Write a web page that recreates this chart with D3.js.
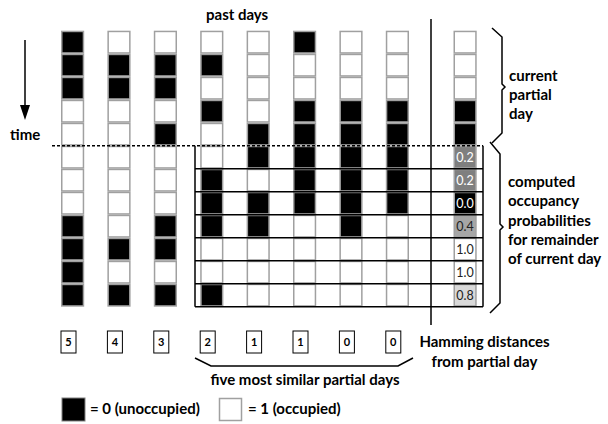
<!DOCTYPE html>
<html><head><meta charset="utf-8">
<script src="https://cdn.jsdelivr.net/npm/d3@7"></script>
<style>
html,body{margin:0;padding:0;background:#fff;}
svg{display:block;font-family:Lato,"Open Sans",sans-serif;}
</style></head>
<body><svg id="c" width="608" height="424"></svg>
<script>
// ---- data (1 = occupied / white, 0 = unoccupied / black) ----
const pastDays = [
  [0,0,0,1,1,1,1,1,0,0,0,0],
  [1,0,0,1,1,1,1,1,1,0,1,0],
  [1,0,0,1,0,1,1,1,0,0,1,0],
  [1,0,1,0,1,1,0,0,0,1,1,0],
  [1,1,1,1,0,0,1,0,0,1,1,1],
  [0,1,1,0,0,0,0,0,1,1,1,1],
  [1,1,1,0,0,0,0,0,0,1,1,1],
  [1,1,1,0,0,0,0,0,1,1,1,1]
];
const currentPartial = [1,1,1,0,0];
const probabilities = [0.2,0.2,0.0,0.4,1.0,1.0,0.8];
const probLabels = ["0.2","0.2","0.0","0.4","1.0","1.0","0.8"];
const hamming = [5,4,3,2,1,1,0,0];
const nSlots = 12, partialLen = 5;

const svg = d3.select("#c");
const x = d3.scaleBand().domain(d3.range(pastDays.length)).range([61,409]).paddingInner(0.5);
const y = d3.scaleBand().domain(d3.range(nSlots)).range([30.7,306.7]);
const bw = x.bandwidth(), bh = y.bandwidth();
const curX = 453.5;
const grayFill = d3.scaleLinear().domain([0,0.2,0.4,0.8,1]).range(["#000","#7f7f7f","#a6a6a6","#d9d9d9","#fff"]);
const cellStroke = "#a0a0a0";

// past day cells
pastDays.forEach((day,i)=>{
  svg.append("g").selectAll("rect").data(day).join("rect")
    .attr("x",x(i)+0.75).attr("y",(d,r)=>y(r)+0.75)
    .attr("width",bw-1.5).attr("height",bh-1.5)
    .attr("fill",d=>d?"#fff":"#000")
    .attr("stroke",cellStroke).attr("stroke-width",1.5);
});
// current column
svg.append("g").selectAll("rect").data(currentPartial).join("rect")
  .attr("x",curX+0.75).attr("y",(d,r)=>y(r)+0.75)
  .attr("width",bw-1.5).attr("height",bh-1.5)
  .attr("fill",d=>d?"#fff":"#000")
  .attr("stroke",cellStroke).attr("stroke-width",1.5);
const pg = svg.append("g").selectAll("g").data(probabilities).join("g");
pg.append("rect")
  .attr("x",curX+0.75).attr("y",(d,i)=>y(i+partialLen)+0.75)
  .attr("width",bw-1.5).attr("height",bh-1.5)
  .attr("fill",d=>grayFill(d))
  .attr("stroke",cellStroke).attr("stroke-width",1.5);
pg.append("text")
  .attr("x",curX+bw/2).attr("y",(d,i)=>y(i+partialLen)+bh/2+4.5)
  .attr("text-anchor","middle").attr("font-size",12.5)
  .attr("fill",d=>d<0.3?"#fff":"#222")
  .text((d,i)=>probLabels[i]);

// remainder grid: black horizontal lines and frame
const gx0 = 195, gx1 = 483;
const yTop = y(partialLen), yBot = y(nSlots-1)+bh;
svg.append("g").selectAll("line").data(d3.range(partialLen+1,nSlots+1)).join("line")
  .attr("x1",gx0).attr("x2",gx1)
  .attr("y1",r=>r===nSlots?yBot:y(r)).attr("y2",r=>r===nSlots?yBot:y(r))
  .attr("stroke","#000").attr("stroke-width",1.5);
svg.append("line").attr("x1",gx0).attr("x2",gx0).attr("y1",yTop).attr("y2",yBot).attr("stroke","#000").attr("stroke-width",1.5);
svg.append("line").attr("x1",gx1).attr("x2",gx1).attr("y1",yTop).attr("y2",yBot).attr("stroke","#000").attr("stroke-width",1.5);
// dashed "now" line
svg.append("line").attr("x1",52).attr("x2",gx1).attr("y1",yTop).attr("y2",yTop)
  .attr("stroke","#000").attr("stroke-width",1.5).attr("stroke-dasharray","3,2");
// separator
svg.append("line").attr("x1",431).attr("x2",431).attr("y1",19).attr("y2",325).attr("stroke","#000").attr("stroke-width",1.5);

// time arrow
svg.append("line").attr("x1",25).attr("x2",25).attr("y1",40).attr("y2",108).attr("stroke","#000").attr("stroke-width",1.5);
svg.append("path").attr("d","M20,105L30,105L25,120Z").attr("fill","#000");

const T = (txt,xx,yy,opt={})=>svg.append("text").attr("x",xx).attr("y",yy)
  .attr("font-size",opt.size||15).attr("font-weight",opt.w||"bold")
  .attr("text-anchor",opt.anchor||"start").attr("fill","#000").text(txt);

T("past days",206,20);
T("time",10,140);
["current","partial","day"].forEach((s,i)=>T(s,509,81+i*19));
["computed","occupancy","probabilities","for remainder","of current day"].forEach((s,i)=>T(s,508,187+i*19.3));

// braces
svg.append("path").attr("d","M492,28L502,37L502,84L505,87L502,90L502,133L492,143")
  .attr("fill","none").attr("stroke","#000").attr("stroke-width",1.5);
svg.append("path").attr("d","M490,142L500,154L500,224L503,227L500,230L500,303L490,313")
  .attr("fill","none").attr("stroke","#000").attr("stroke-width",1.5);

// hamming boxes
const hg = svg.append("g").selectAll("g").data(hamming).join("g");
hg.append("rect").attr("x",(d,i)=>x(i)).attr("y",331).attr("width",15).attr("height",22)
  .attr("fill","#fff").attr("stroke","#000").attr("stroke-width",1);
hg.append("text").attr("x",(d,i)=>x(i)+7.5).attr("y",346).attr("text-anchor","middle")
  .attr("font-size",11).attr("font-weight","bold").text(d=>d);

T("Hamming distances",484.5,347,{anchor:"middle"});
T("from partial day",484.5,367,{anchor:"middle"});

// bottom brace
svg.append("path").attr("d","M195,358L211,366L398,366L413,358")
  .attr("fill","none").attr("stroke","#000").attr("stroke-width",1.5);
T("five most similar partial days",305,385,{anchor:"middle"});

// legend
svg.append("rect").attr("x",62).attr("y",398).attr("width",23).attr("height",23).attr("fill","#000").attr("stroke","#808080").attr("stroke-width",1);
T("= 0 (unoccupied)",90,414);
svg.append("rect").attr("x",219.5).attr("y",398.5).attr("width",22).attr("height",22).attr("fill","#fff").attr("stroke",cellStroke).attr("stroke-width",1.5);
T("= 1 (occupied)",248,414);
</script></body></html>
